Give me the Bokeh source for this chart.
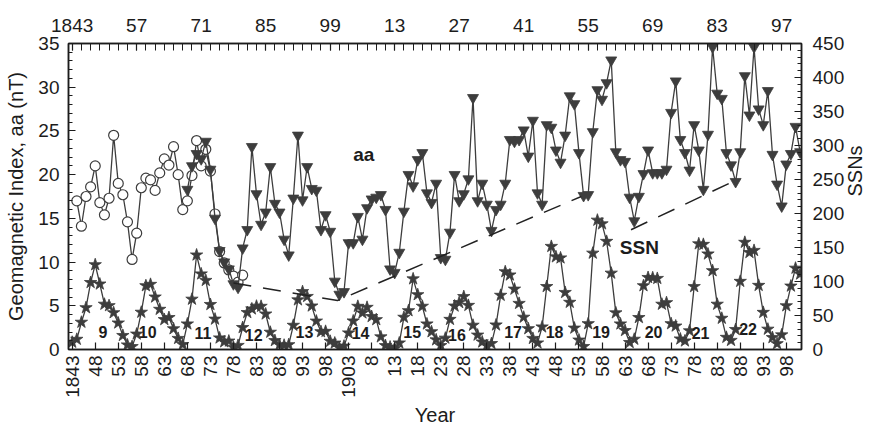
import math
from bokeh.plotting import figure
from bokeh.models import Range1d, LinearAxis, FixedTicker, ColumnDataSource
from bokeh.embed import file_html
from bokeh.resources import INLINE
from bokeh.core.properties import value

# ---------------- data ----------------
circ_years = list(range(1844, 1881))
aa_circ = [17.0, 14.1, 17.5, 18.6, 21.0, 16.8, 15.4, 17.3, 24.5, 19.0,
           17.7, 14.6, 10.3, 13.3, 18.5, 19.6, 19.4, 18.2, 20.2, 21.8,
           21.1, 23.2, 20.0, 16.0, 17.0, 19.9, 23.9, 21.0, 22.9, 20.4,
           15.5, 11.2, 9.9, 9.1, 8.4, 7.7, 8.5]

aa_years = list(range(1868, 2002))
aa_index = [18.3, 21.0, 22.4, 21.8, 23.8, 20.6, 15.0, 11.3, 10.0, 9.2,   # 1868-1877
            7.5, 7.1, 11.6, 13.7, 23.2, 17.8, 14.3, 15.7, 20.9, 16.7,    # 1878-1887
            15.7, 12.6, 10.8, 17.3, 24.5, 17.1, 20.9, 18.4, 18.2, 13.7,  # 1888-1897
            15.4, 13.5, 7.8, 6.3, 6.6, 12.2, 12.2, 15.2, 12.6, 16.2,     # 1898-1907
            17.2, 17.4, 17.7, 16.0, 9.2, 8.8, 11.1, 15.8, 20.0, 18.7,    # 1908-1917
            21.7, 22.5, 17.9, 16.8, 19.0, 10.5, 10.3, 13.4, 20.0, 17.0,  # 1918-1927
            17.8, 19.5, 28.8, 17.0, 19.0, 16.6, 13.6, 16.0, 16.6, 19.0,  # 1928-1937
            24.0, 23.8, 24.0, 25.1, 22.1, 26.2, 17.9, 16.6, 25.7, 25.4,  # 1938-1947
            22.8, 21.4, 24.5, 29.0, 28.1, 22.5, 17.6, 17.7, 24.9, 29.7,  # 1948-1957
            28.6, 30.5, 33.1, 22.6, 21.7, 21.5, 17.4, 14.7, 17.5, 20.1,  # 1958-1967
            22.8, 20.2, 20.2, 20.2, 20.6, 27.1, 30.7, 24.0, 22.5, 20.5,  # 1968-1977
            25.7, 22.8, 18.3, 24.6, 34.6, 29.3, 28.7, 22.5, 21.1, 19.2,  # 1978-1987
            22.6, 31.3, 26.8, 34.6, 27.5, 25.7, 29.6, 22.3, 18.9, 16.4,  # 1988-1997
            21.2, 22.4, 25.5, 22.6]                                      # 1998-2001

ssn_years = list(range(1843, 2002))
ssn = [10.7, 15.0, 40.1, 61.5, 98.5, 124.7, 96.3, 66.6, 64.5, 54.1,
       39.0, 20.6, 6.7, 4.3, 22.7, 54.8, 93.8, 95.8, 77.2, 59.1,
       44.0, 47.0, 30.5, 16.3, 7.3, 37.6, 74.0, 139.0, 111.2, 101.6,
       66.2, 44.7, 17.0, 11.3, 12.4, 3.4, 6.0, 32.3, 54.3, 59.7,
       63.7, 63.5, 52.2, 25.4, 13.1, 6.8, 6.3, 7.1, 35.6, 73.0,
       85.1, 78.0, 64.0, 41.8, 26.2, 26.7, 12.1, 9.5, 2.7, 5.0,
       24.4, 42.0, 63.5, 53.8, 62.0, 48.5, 43.9, 18.6, 5.7, 3.6,
       1.4, 9.6, 47.4, 57.1, 103.9, 80.6, 63.6, 37.6, 26.1, 14.2,
       5.8, 16.7, 44.3, 63.9, 69.0, 77.8, 64.9, 35.7, 21.2, 11.1,
       5.7, 8.7, 36.1, 79.7, 114.4, 109.6, 88.8, 67.8, 47.5, 30.6,
       16.3, 9.6, 33.2, 92.6, 151.6, 136.3, 134.7, 83.9, 69.4, 31.5,
       13.9, 4.4, 38.0, 141.7, 190.2, 184.8, 159.0, 112.3, 53.9, 37.6,
       27.9, 10.2, 15.1, 47.0, 93.8, 105.9, 105.5, 104.5, 66.6, 68.9,
       38.0, 34.5, 15.5, 12.6, 27.5, 92.5, 155.4, 154.6, 140.5, 115.9,
       66.6, 45.9, 17.9, 13.4, 29.4, 100.2, 157.6, 142.6, 145.7, 94.3,
       54.6, 29.9, 17.5, 8.6, 21.5, 64.3, 93.3, 119.6, 111.0]

trend1_years = [1878.0, 1900.6, 1933.4, 1953.5]
trend1_aa = [7.6, 5.6, 13.0, 17.5]
trend2_years = [1964.3, 1986.4]
trend2_aa = [13.7, 19.2]

cycle_numbers = ["9", "10", "11", "12", "13", "14", "15", "16", "17", "18",
                 "19", "20", "21", "22"]
cycle_label_years = [1849.7, 1859.4, 1871.4, 1882.4, 1893.4, 1905.6, 1916.8,
                     1926.5, 1938.7, 1947.7, 1957.8, 1969.2, 1979.4, 1989.7]
cycle_label_aa = [2.0, 2.05, 1.9, 1.7, 2.0, 1.9, 2.0, 1.7, 2.0, 2.0, 2.05,
                  2.0, 1.9, 2.3]

bottom_tick_years = list(range(1843, 1999, 5))
bottom_tick_labels = ["1843", "48", "53", "58", "63", "68", "73", "78", "83",
                      "88", "93", "98", "1903", "8", "13", "18", "23", "28",
                      "33", "38", "43", "48", "53", "58", "63", "68", "73",
                      "78", "83", "88", "93", "98"]
top_tick_years = list(range(1843, 2001, 14))
top_tick_labels = ["1843", "57", "71", "85", "99", "13", "27", "41", "55",
                   "69", "83", "97"]

# ---------------- styling ----------------
FONT = "Liberation Sans"
INK = "#3d3d3d"
TXT = "#1c1c1c"

p = figure(width=880, height=428,
           x_range=Range1d(1842.2, 2001.3), y_range=Range1d(0, 35),
           output_backend="svg", toolbar_location=None,
           min_border_left=68, min_border_right=75,
           min_border_top=43, min_border_bottom=77,
           background_fill_color="white", border_fill_color="white")
p.extra_y_ranges = {"ssn": Range1d(0, 450)}
p.xgrid.visible = False
p.ygrid.visible = False
p.outline_line_color = TXT
p.outline_line_width = 1.5


def style(ax, tick_in=7, minor_in=4):
    ax.axis_line_color = TXT
    ax.axis_line_width = 1.5
    ax.major_tick_line_color = TXT
    ax.major_tick_line_width = 1.2
    ax.minor_tick_line_color = TXT
    ax.minor_tick_line_width = 1.0
    ax.major_tick_out = 0
    ax.major_tick_in = tick_in
    ax.minor_tick_out = 0
    ax.minor_tick_in = minor_in
    ax.major_label_text_font = FONT
    ax.major_label_text_font_size = "19px"
    ax.major_label_text_color = TXT
    ax.axis_label_text_font = FONT
    ax.axis_label_text_font_size = "20px"
    ax.axis_label_text_font_style = "normal"
    ax.axis_label_text_color = TXT


# left axis
yl = p.yaxis[0]
yl.ticker = FixedTicker(ticks=list(range(0, 36, 5)), minor_ticks=list(range(0, 36)))
style(yl)
yl.axis_label = "Geomagnetic Index, aa (nT)"
yl.major_label_standoff = 9
yl.axis_label_standoff = 8

# bottom axis
xb = p.xaxis[0]
xb.ticker = FixedTicker(ticks=bottom_tick_years, minor_ticks=[])
style(xb, minor_in=0)
xb.major_label_overrides = {y: s for y, s in zip(bottom_tick_years, bottom_tick_labels)}
xb.major_label_orientation = math.pi / 2
xb.major_label_standoff = 6
xb.axis_label = "Year"
xb.axis_label_standoff = 3

# top axis
xt = LinearAxis(ticker=FixedTicker(ticks=top_tick_years,
                                   minor_ticks=list(range(1843, 2001, 2))))
style(xt, tick_in=7, minor_in=7)
xt.major_label_overrides = {y: s for y, s in zip(top_tick_years, top_tick_labels)}
xt.major_label_standoff = 12
p.add_layout(xt, "above")

# right axis
yr = LinearAxis(y_range_name="ssn",
                ticker=FixedTicker(ticks=list(range(0, 451, 50)),
                                   minor_ticks=list(range(0, 451, 10))))
style(yr)
yr.axis_label = "SSNs"
yr.major_label_standoff = 11
yr.axis_label_standoff = 8
yr.axis_label_orientation = math.pi / 2
p.add_layout(yr, "right")

# ---------------- glyphs ----------------
LW = 1.3
p.line(ssn_years, ssn, y_range_name="ssn", line_color=INK, line_width=LW)
p.scatter(ssn_years, ssn, y_range_name="ssn", marker="star", size=13,
          fill_color=INK, line_color=INK, line_width=0.8)

p.line(circ_years, aa_circ, line_color=INK, line_width=LW)
p.scatter(circ_years, aa_circ, marker="circle", size=10, fill_color="white",
          line_color=INK, line_width=1.2)

p.line(aa_years, aa_index, line_color=INK, line_width=LW)
p.scatter(aa_years, aa_index, marker="inverted_triangle", size=11,
          fill_color=INK, line_color=INK, line_width=0.8)

p.line(trend1_years, trend1_aa, line_color="#222222", line_width=1.5, line_dash="18 12")
p.line(trend2_years, trend2_aa, line_color="#222222", line_width=1.5, line_dash="18 12")

cyc = ColumnDataSource(dict(x=cycle_label_years, y=cycle_label_aa, t=cycle_numbers))
p.text(x="x", y="y", text="t", source=cyc, text_font=value(FONT),
       text_font_style="bold", text_font_size="16px", text_color=TXT,
       text_align="center", text_baseline="middle")

names = ColumnDataSource(dict(x=[1906.3, 1966.1], y=[22.3, 11.7], t=["aa", "SSN"]))
p.text(x="x", y="y", text="t", source=names, text_font=value(FONT),
       text_font_style="bold", text_font_size="19px", text_color=TXT,
       text_align="center", text_baseline="middle")

open("out.html", "w").write(file_html(p, INLINE))
